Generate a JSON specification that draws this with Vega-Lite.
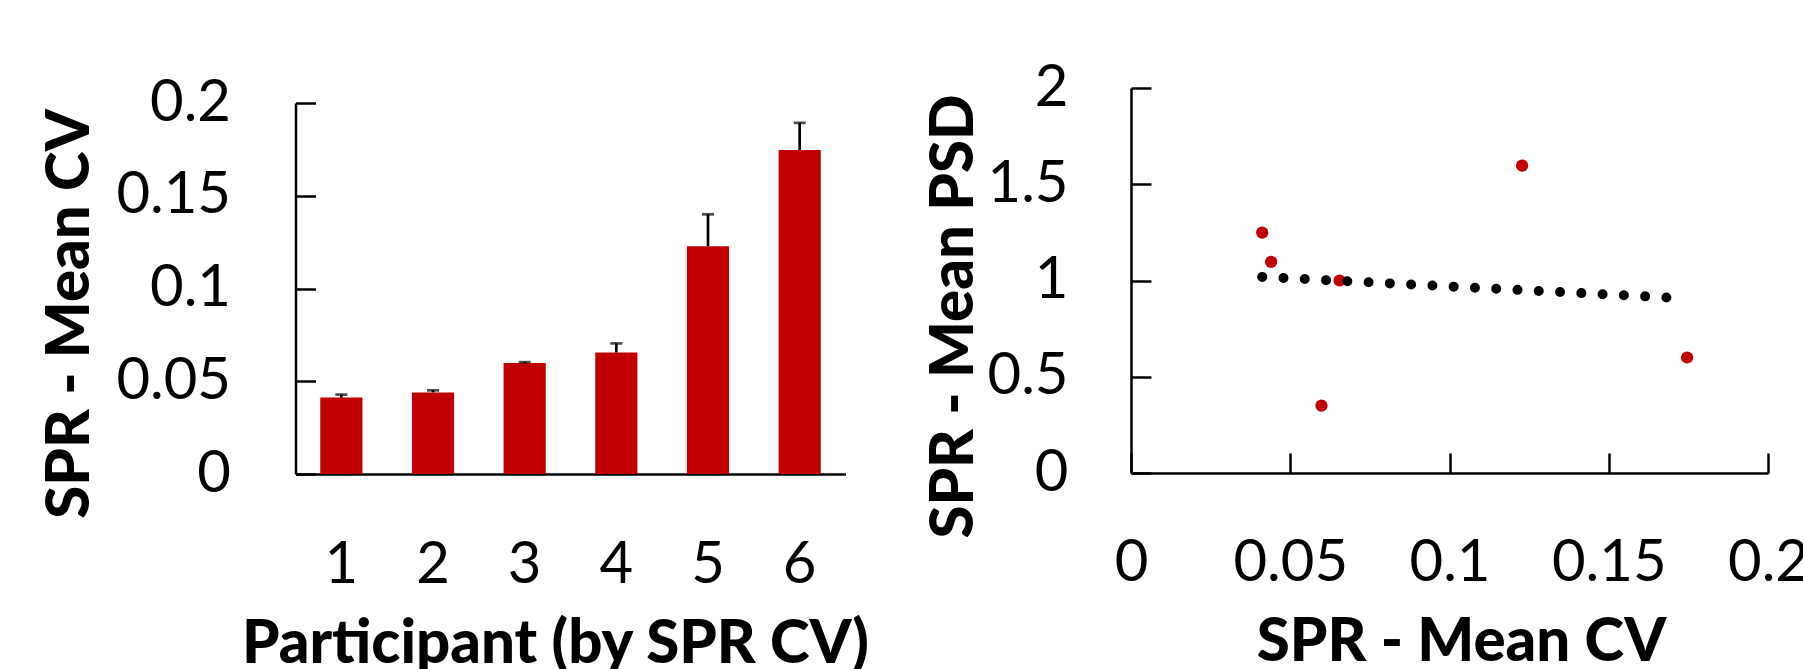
{
  "$schema": "https://vega.github.io/schema/vega-lite/v6.json",
  "background": "white",
  "padding": {"left": 39.5, "top": 59, "right": 0, "bottom": 0},
  "spacing": 53.5,
  "config": {
    "view": {"stroke": null},
    "font": "Lato",
    "axis": {
      "grid": false,
      "domainColor": "black",
      "domainWidth": 2.5,
      "tickColor": "black",
      "tickWidth": 2.5,
      "labelColor": "black",
      "titleColor": "black",
      "labelFont": "Lato",
      "titleFont": "Lato",
      "labelFontSize": 58,
      "titleFontSize": 60,
      "titleFontWeight": 900,
      "labelOverlap": false,
      "labelFlush": false,
      "labelBound": false
    }
  },
  "datasets": {
    "spr": [
      {"participant": "1", "cv": 0.0412, "upper": 0.0428, "psd": 1.249},
      {"participant": "2", "cv": 0.044, "upper": 0.0451, "psd": 1.097},
      {"participant": "3", "cv": 0.0598, "upper": 0.0603, "psd": 0.35},
      {"participant": "4", "cv": 0.0655, "upper": 0.0704, "psd": 1.0},
      {"participant": "5", "cv": 0.1228, "upper": 0.14, "psd": 1.597},
      {"participant": "6", "cv": 0.1746, "upper": 0.1893, "psd": 0.6}
    ]
  },
  "hconcat": [
    {
      "width": 550,
      "height": 386,
      "data": {"name": "spr"},
      "encoding": {
        "x": {
          "field": "participant",
          "type": "ordinal",
          "scale": {"paddingInner": 0.54, "paddingOuter": 0.27},
          "axis": {
            "title": "Participant (by SPR CV)",
            "labelAngle": 0,
            "ticks": false,
            "labelBaseline": "alphabetic",
            "labelPadding": 108,
            "titleX": 259.5,
            "titleY": 188,
            "titleAlign": "center",
            "titleBaseline": "alphabetic"
          }
        }
      },
      "layer": [
        {
          "mark": {"type": "bar", "color": "#C00000"},
          "encoding": {
            "y": {
              "field": "cv",
              "type": "quantitative",
              "scale": {"domain": [0, 0.2], "range": [386, 15], "nice": false},
              "axis": {
                "title": "SPR - Mean CV",
                "values": [0, 0.05, 0.1, 0.15, 0.2],
                "format": "~g",
                "tickSize": -20,
                "labelPadding": 85,
                "titleX": -225,
                "titleY": 225.5,
                "titleAngle": -90,
                "titleAlign": "center",
                "titleBaseline": "middle"
              }
            }
          }
        },
        {
          "mark": {"type": "rule", "color": "black", "strokeWidth": 2.7},
          "encoding": {
            "y": {"field": "cv", "type": "quantitative"},
            "y2": {"field": "upper"}
          }
        },
        {
          "mark": {"type": "tick", "color": "black", "thickness": 2.7, "size": 12},
          "encoding": {
            "y": {"field": "upper", "type": "quantitative"}
          }
        }
      ]
    },
    {
      "width": 637,
      "height": 385,
      "data": {"name": "spr"},
      "encoding": {
        "x": {
          "field": "cv",
          "type": "quantitative",
          "scale": {"domain": [0, 0.2], "nice": false, "zero": false},
          "axis": {
            "title": "SPR - Mean CV",
            "values": [0, 0.05, 0.1, 0.15, 0.2],
            "format": "~g",
            "tickSize": -20,
            "labelBaseline": "alphabetic",
            "labelPadding": 127,
            "titleX": 330,
            "titleY": 187,
            "titleAlign": "center",
            "titleBaseline": "alphabetic"
          }
        },
        "y": {
          "field": "psd",
          "type": "quantitative",
          "scale": {"domain": [0, 2], "nice": false},
          "axis": {
            "title": "SPR - Mean PSD",
            "values": [0, 0.5, 1, 1.5, 2],
            "format": "~g",
            "tickSize": -20,
            "labelPadding": 83,
            "titleX": -177,
            "titleY": 228,
            "titleAngle": -90,
            "titleAlign": "center",
            "titleBaseline": "middle"
          }
        }
      },
      "layer": [
        {
          "mark": {"type": "circle", "color": "#C00000", "opacity": 1, "size": 150}
        },
        {
          "transform": [{"regression": "psd", "on": "cv"}],
          "mark": {"type": "line", "color": "black", "strokeWidth": 10, "strokeCap": "round", "strokeDash": [0, 21.3]}
        }
      ]
    }
  ]
}
